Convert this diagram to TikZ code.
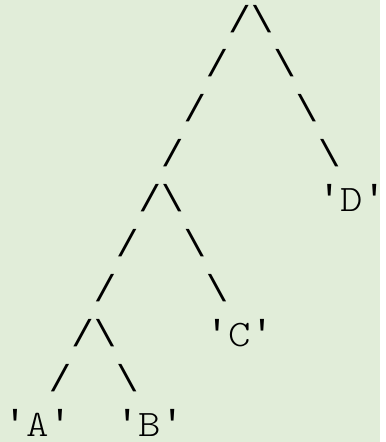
\documentclass[tikz,border=0pt]{standalone}
\usepackage{fontspec}
\setmonofont{lmmonolt10-regular.otf}[FakeStretch=1.143]
\newfontfamily\markfont{Liberation Mono}
\definecolor{bgcol}{HTML}{E1EDD9}
\newcommand\fsl{{\markfont/}}
\newcommand\bsl{{\markfont\textbackslash}}
\newcommand\sq{{\markfont\textquotesingle}}
\begin{document}
\begin{tikzpicture}[x=22.44pt,y=-44.9pt,
  ch/.style={anchor=base west,inner sep=0pt,text=black,text depth=0pt,
    font=\ttfamily\fontsize{37.4}{45}\selectfont}]
\fill[bgcol] (-3.8pt,-12.9pt) rectangle (376.2pt,-454.9pt);
% column / row / text / name
\foreach \c/\r/\t/\n in {10/1/\fsl\bsl/top,
  9/2/\fsl/l2,12/2/\bsl/r2,
  8/3/\fsl/l3,13/3/\bsl/r3,
  7/4/\fsl/l4,14/4/\bsl/r4,
  6/5/\fsl\bsl/mid,14/5/\sq D\sq/d,
  5/6/\fsl/l6,8/6/\bsl/r6,
  4/7/\fsl/l7,9/7/\bsl/r7,
  3/8/\fsl\bsl/low,9/8/\sq C\sq/c,
  2/9/\fsl/l9,5/9/\bsl/r9,
  0/10/\sq A\sq/a,5/10/\sq B\sq/b}
  \node[ch] (\n) at (\c,\r) {\t};
\end{tikzpicture}
\end{document}
